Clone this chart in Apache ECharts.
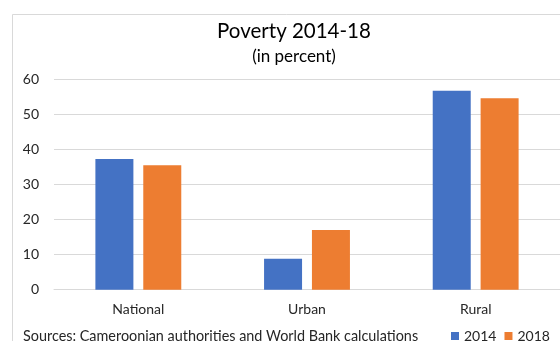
<!DOCTYPE html>
<html>
<head>
<meta charset="utf-8">
<script src="https://cdn.jsdelivr.net/npm/echarts@6/dist/echarts.min.js"></script>
<style>
  html, body { margin: 0; padding: 0; background: #fff; }
  #chart { width: 560px; height: 341px; }
</style>
</head>
<body>
<div id="chart"></div>
<script>
// Poverty rates by area, 2014 vs 2018 (percent)
const categories = ['National', 'Urban', 'Rural'];
const poverty2014 = [37.3, 8.8, 56.7];
const poverty2018 = [35.5, 17.0, 54.6];
const seriesNames = ['2014', '2018'];
const yTicks = { min: 0, max: 60, interval: 10 };

const FONT = 'Lato, "Open Sans", sans-serif';
const chart = echarts.init(document.getElementById('chart'), null, { renderer: 'canvas' });

chart.setOption({
  animation: false,
  backgroundColor: '#ffffff',
  textStyle: { fontFamily: FONT },
  title: {
    text: 'Poverty 2014-18',
    subtext: '(in percent)',
    left: 294,
    textAlign: 'center',
    top: 21,
    itemGap: 6,
    padding: 0,
    textStyle: { fontFamily: FONT, fontSize: 20.5, fontWeight: 'normal', color: '#000000' },
    subtextStyle: { fontFamily: FONT, fontSize: 17, color: '#000000' }
  },
  legend: {
    data: seriesNames,
    left: 451,
    top: 329,
    padding: 0,
    icon: 'rect',
    itemWidth: 8,
    itemHeight: 8,
    itemGap: 8,
    textStyle: { fontFamily: FONT, fontSize: 14, color: '#262626' }
  },
  graphic: [
    {
      type: 'rect',
      silent: true,
      shape: { x: 12.5, y: 14.5, width: 600, height: 400 },
      style: { fill: 'none', stroke: '#d9d9d9', lineWidth: 1 },
      z: -1
    },
    {
      type: 'text',
      left: 23,
      top: 329,
      style: {
        text: 'Sources: Cameroonian authorities and World Bank calculations',
        fontFamily: FONT,
        fontSize: 14.4,
        fill: '#262626'
      }
    }
  ],
  grid: { left: 54, right: 0, top: 79.3, bottom: 51.3, containLabel: false },
  xAxis: {
    type: 'category',
    data: categories,
    axisLine: { show: true, lineStyle: { color: '#d9d9d9', width: 1 } },
    axisTick: { show: false },
    axisLabel: { color: '#262626', fontSize: 14, fontFamily: FONT, margin: 13 }
  },
  yAxis: {
    type: 'value',
    min: yTicks.min,
    max: yTicks.max,
    interval: yTicks.interval,
    axisLine: { show: false },
    axisTick: { show: false },
    splitLine: { lineStyle: { color: '#d9d9d9', width: 1 } },
    axisLabel: { color: '#262626', fontSize: 14, fontFamily: FONT, margin: 15 }
  },
  series: [
    {
      name: seriesNames[0],
      type: 'bar',
      data: poverty2014,
      barWidth: 38,
      barGap: '26%',
      itemStyle: { color: '#4472c4' }
    },
    {
      name: seriesNames[1],
      type: 'bar',
      data: poverty2018,
      barWidth: 38,
      itemStyle: { color: '#ed7d31' }
    }
  ]
});
</script>
</body>
</html>
